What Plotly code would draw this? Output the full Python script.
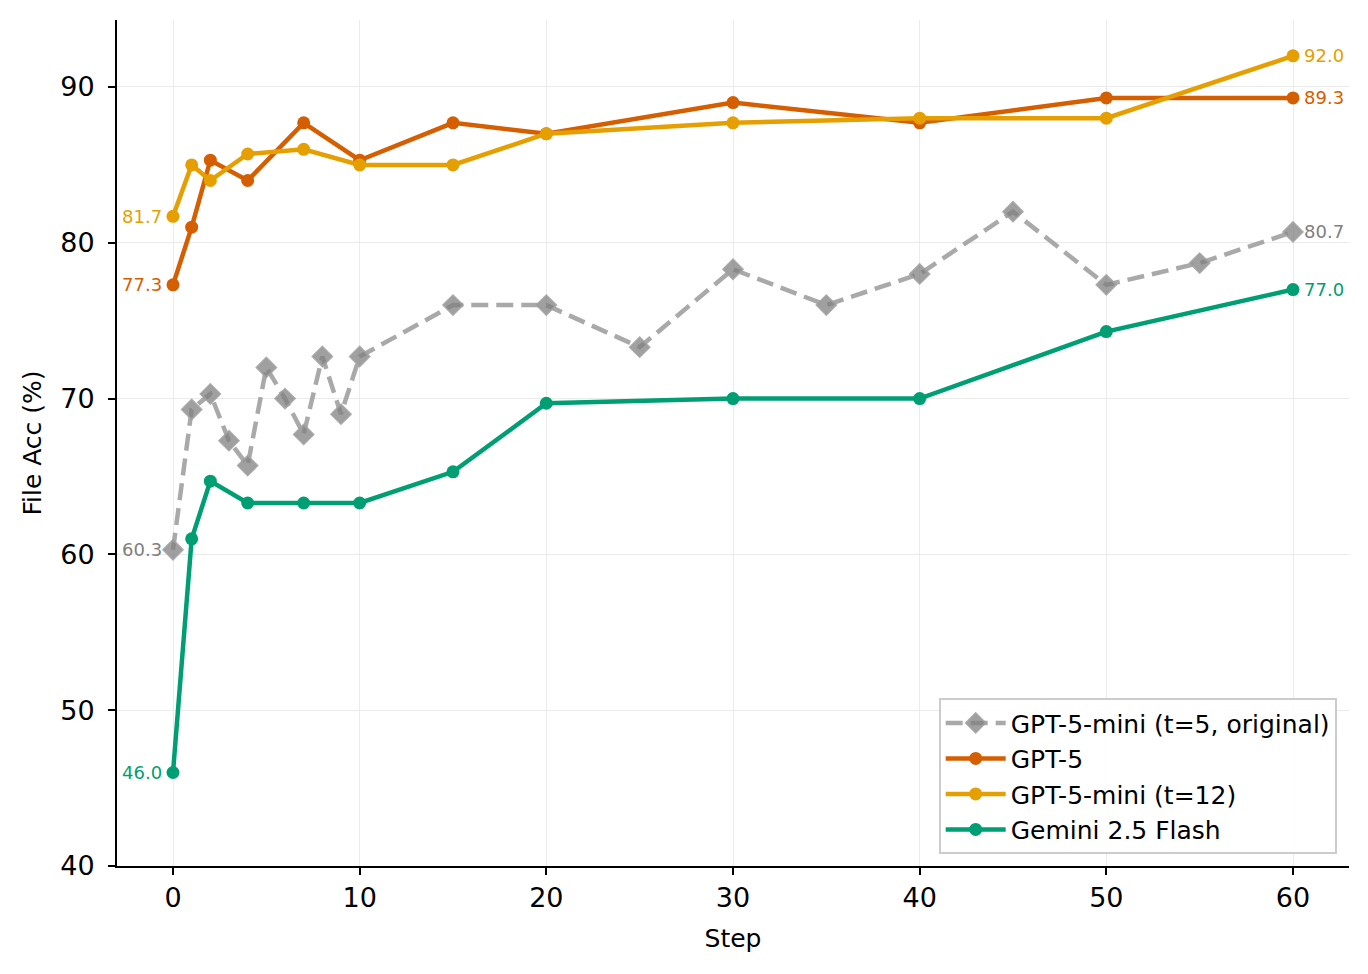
import plotly.graph_objects as go

steps_orig = [0, 1, 2, 3, 4, 5, 6, 7, 8, 9, 10, 15, 20, 25, 30, 35, 40, 45, 50, 55, 60]
acc_orig = [60.3, 69.3, 70.3, 67.3, 65.7, 72.0, 70.0, 67.7, 72.7, 69.0, 72.7,
            76.0, 76.0, 73.3, 78.3, 76.0, 78.0, 82.0, 77.3, 78.7, 80.7]

steps = [0, 1, 2, 4, 7, 10, 15, 20, 30, 40, 50, 60]
acc_gpt5 = [77.3, 81.0, 85.3, 84.0, 87.7, 85.3, 87.7, 87.0, 89.0, 87.7, 89.3, 89.3]
acc_mini12 = [81.7, 85.0, 84.0, 85.7, 86.0, 85.0, 85.0, 87.0, 87.7, 88.0, 88.0, 92.0]
acc_gemini = [46.0, 61.0, 64.7, 63.3, 63.3, 63.3, 65.3, 69.7, 70.0, 70.0, 74.3, 77.0]

names = ["GPT-5-mini (t=5, original)", "GPT-5", "GPT-5-mini (t=12)", "Gemini 2.5 Flash"]
colors = ["#9e9e9e", "#D55E00", "#E69F00", "#009E73"]
label_colors = ["#808080", "#D55E00", "#E69F00", "#009E73"]

FONT = "DejaVu Sans"
fig = go.Figure()

fig.add_trace(go.Scatter(
    x=steps_orig, y=acc_orig, name=names[0], mode="lines+markers",
    line=dict(color="rgba(160,160,160,0.9)", width=4.5, dash="17px,8px"),
    marker=dict(symbol="diamond", size=15, color="rgba(128,128,128,0.75)",
                line=dict(color="rgba(160,160,160,0.85)", width=2)),
))
series = [(acc_gpt5, 1), (acc_mini12, 2), (acc_gemini, 3)]
for ys, i in series:
    fig.add_trace(go.Scatter(
        x=steps, y=ys, name=names[i], mode="lines+markers",
        line=dict(color=colors[i], width=4.5),
        marker=dict(symbol="circle", size=13, color=colors[i]),
    ))

all_series = [(steps_orig, acc_orig, 0), (steps, acc_gpt5, 1), (steps, acc_mini12, 2), (steps, acc_gemini, 3)]
for xs, ys, i in all_series:
    fig.add_annotation(x=xs[0], y=ys[0], text=f"{ys[0]:.1f}", showarrow=False,
                       xanchor="right", xshift=-9, yanchor="middle",
                       font=dict(family=FONT, size=18, color=label_colors[i]))
    fig.add_annotation(x=xs[-1], y=ys[-1], text=f"{ys[-1]:.1f}", showarrow=False,
                       xanchor="left", xshift=9, yanchor="middle",
                       font=dict(family=FONT, size=18, color=label_colors[i]))

fig.update_layout(
    width=1368, height=974,
    margin=dict(l=117, r=19, t=20, b=108),
    paper_bgcolor="white", plot_bgcolor="white",
    font=dict(family=FONT, size=25, color="black"),
    showlegend=True,
    legend=dict(x=0.99, y=0.014, xanchor="right", yanchor="bottom",
                bgcolor="rgba(255,255,255,0.9)", bordercolor="#cccccc", borderwidth=2,
                font=dict(family=FONT, size=25, color="black"),
                itemwidth=60),
)
fig.update_xaxes(
    range=[-3, 63], tickvals=[0, 10, 20, 30, 40, 50, 60],
    showline=True, linecolor="black", linewidth=2, mirror=False,
    ticks="outside", ticklen=7, tickwidth=2, tickcolor="black",
    showgrid=True, gridcolor="#ebebeb", gridwidth=1, zeroline=False,
    title=dict(text="Step", font=dict(family=FONT, size=25), standoff=17),
    tickfont=dict(family=FONT, size=27),
)
fig.update_yaxes(
    range=[40, 94.3], tickvals=[40, 50, 60, 70, 80, 90],
    showline=True, linecolor="black", linewidth=2, mirror=False,
    ticks="outside", ticklen=7, tickwidth=2, tickcolor="black",
    showgrid=True, gridcolor="#ebebeb", gridwidth=1, zeroline=False,
    ticklabelstandoff=8,
    title=dict(text="File Acc (%)", font=dict(family=FONT, size=25), standoff=11),
    tickfont=dict(family=FONT, size=27),
)

fig.write_html("out.html")
